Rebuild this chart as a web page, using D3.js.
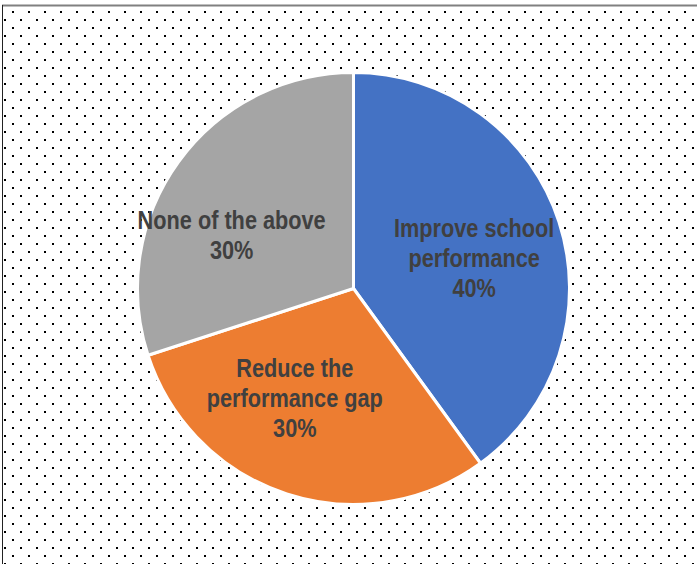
<!DOCTYPE html>
<html><head><meta charset="utf-8">
<script src="https://cdn.jsdelivr.net/npm/d3@7"></script>
<style>html,body{margin:0;padding:0;background:#fff;overflow:hidden}</style>
</head><body>
<script>
const categories = ["Improve school performance", "Reduce the performance gap", "None of the above"];
const values = [40, 30, 30];
const labelLines = [["Improve school", "performance", "40%"], ["Reduce the", "performance gap", "30%"], ["None of the above", "30%"]];
const colors = ["#4472C4", "#ED7D31", "#A5A5A5"];

const W = 697, H = 564;
const svg = d3.select("body").append("svg").attr("width", W).attr("height", H);
const defs = svg.append("defs");
const pat = defs.append("pattern").attr("id", "dots").attr("patternUnits", "userSpaceOnUse")
  .attr("width", 16).attr("height", 16);
pat.append("rect").attr("x", 12).attr("y", 11).attr("width", 2).attr("height", 2).attr("fill", "#000");
pat.append("rect").attr("x", 4).attr("y", 3).attr("width", 2).attr("height", 2).attr("fill", "#000");

svg.append("rect").attr("width", W).attr("height", H).attr("fill", "#fff");
svg.append("rect").attr("x", 2).attr("y", 5).attr("width", W - 2).attr("height", H - 5).attr("fill", "url(#dots)");
svg.append("line").attr("x1", 2).attr("x2", W).attr("y1", 5.5).attr("y2", 5.5).attr("stroke", "#808080").attr("stroke-width", 2);
svg.append("line").attr("x1", 2.5).attr("x2", 2.5).attr("y1", 5).attr("y2", H).attr("stroke", "#222").attr("stroke-width", 1);

const cx = 353.5, cy = 288.5, r = 216;
const pie = d3.pie().sort(null).value(d => d)(values);
const arc = d3.arc().innerRadius(0).outerRadius(r);
const g = svg.append("g").attr("transform", `translate(${cx},${cy})`);
g.selectAll("path").data(pie).join("path")
  .attr("d", arc).attr("fill", (d, i) => colors[i])
  .attr("stroke", "#fff").attr("stroke-width", 3).attr("stroke-linejoin", "round");

// label placement: centroid on an inner ring, with small layout nudges (like Excel's best-fit)
const labelArc = d3.arc().innerRadius(r * 0.58).outerRadius(r * 0.58);
const nudge = [[1.5, 8], [-20, -9.5], [-20.5, 20]];
const lh = 30;
pie.forEach((d, i) => {
  const [x, y] = labelArc.centroid(d);
  const lines = labelLines[i];
  const lg = g.append("g").attr("transform", `translate(${x + nudge[i][0]},${y + nudge[i][1]}) scale(0.835,1)`);
  const t = lg.append("text").attr("text-anchor", "middle")
    .attr("font-family", "'Liberation Sans', Arial, sans-serif")
    .attr("font-weight", "bold").attr("font-size", 26).attr("fill", "#404040");
  lines.forEach((s, k) => {
    t.append("tspan").attr("x", 0).attr("y", (k - (lines.length - 1) / 2) * lh + 9).text(s);
  });
});
</script>
</body></html>
